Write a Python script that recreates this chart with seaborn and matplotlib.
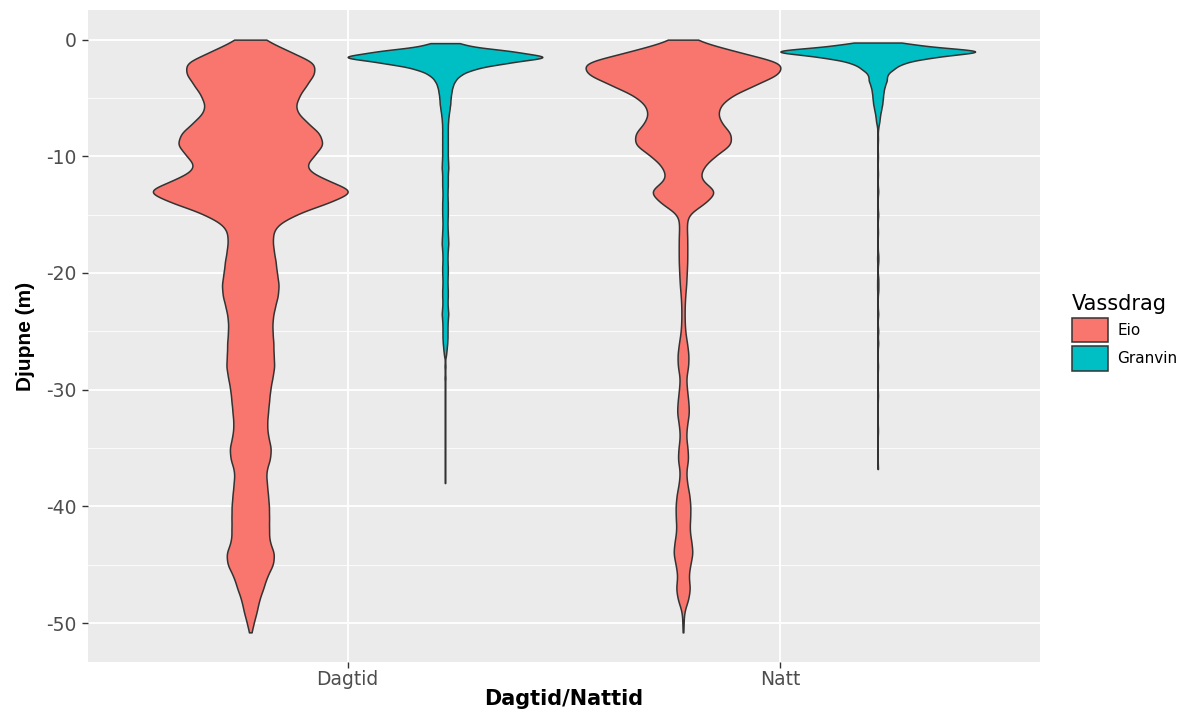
import numpy as np
import pandas as pd
import seaborn as sns
import matplotlib.pyplot as plt
from matplotlib.patches import Patch

# djupne (m, positiv nedover) og relativ breidde på fiolinen, lese av figuren
eio_djup = [0, 1, 2, 3, 4, 5, 6, 7, 8, 9, 10, 11, 12, 13, 14, 15, 16, 17, 18, 19, 20,
            21, 22, 23, 24, 25, 26, 27, 28, 29, 30, 31, 32, 33, 34, 35, 36, 37, 38, 39, 40,
            41, 42, 43, 44, 45, 46, 47, 48, 49, 50, 50.8]
eio_dag = [13, 35, 60, 58, 50, 43, 40, 50, 63, 67, 57, 48, 67, 98, 70, 40, 22, 20, 21, 23, 24,
           26, 25, 22, 20, 20, 21, 21, 22, 20, 18, 17, 16, 15, 16, 19, 18, 14, 15, 16, 17,
           17, 17, 17, 22, 21, 15, 12, 8, 6, 3, 0.5]
eio_natt = [9, 48, 96, 90, 64, 41, 32, 34, 45, 46, 29, 18, 15, 33, 21, 4, 3.5, 4, 4, 4, 3.5,
            3, 2, 1.5, 1.5, 2, 3.7, 5.3, 5, 2.7, 3.7, 5, 5.7, 3.7, 2.7, 4.3, 5, 2.7, 3.7, 6, 7,
            6.7, 6, 7.7, 9.3, 6.7, 5, 6.7, 5, 1, 0.5, 0.25]

granvin_dag_djup = [0.3, 0.5, 1.0, 1.5, 2.0, 2.5, 3.0, 3.5, 4.0, 4.5, 5.0, 5.5, 6.0, 6.5, 7.0, 7.5,
                    8.0, 8.5, 9.0, 9.5, 10.0, 10.5, 11.0, 11.5, 12.0, 12.5, 13.0, 13.5, 14.0, 14.5,
                    15.0, 15.5, 16.0, 16.5, 17.0, 17.5, 18.0, 18.5, 19.0, 19.5, 20.0, 20.5, 21.0,
                    21.5, 22.0, 22.5, 23.0, 23.5, 24.0, 24.5, 25.0, 25.5, 26.0, 26.5,
                    27, 28, 29, 30.5, 33, 35, 38]
granvin_dag = [5, 14, 61, 97, 54, 26, 14, 9, 6.7, 5.7, 5, 4.7, 4, 3.3, 2.7, 2.5,
               2.5, 2.5, 2.5, 2.5, 2.5, 2.8, 3, 2.5, 2.5, 2.5, 2.3, 2.3, 2.5, 2.5,
               2.5, 2.3, 2.3, 2.5, 2.8, 3, 2.5, 2.3, 2.3, 2.5, 2.5, 2.3, 2.3,
               2.5, 2.5, 2.3, 2.5, 3, 2.5, 2.3, 2.3, 2.3, 2, 1.5,
               1, 0.5, 0.5, 0.25, 0.25, 0.25, 0.25]

granvin_natt_djup = [0.25, 0.5, 1.0, 1.5, 2.0, 2.5, 3.0, 3.5, 4.0, 4.5, 5.0, 5.5, 6.0, 6.5, 7.0, 7.5,
                     8.5, 10, 11.5, 13, 15, 16.5, 18.5, 19, 20.5, 21, 21.5, 23.5, 25, 26,
                     28, 30.5, 33.5, 36.8]
granvin_natt = [5, 32, 100, 47, 22, 14, 8, 8, 6, 5, 4.5, 4, 3, 2, 1.5, 0.5,
                0.25, 0.25, 0.25, 0.5, 0.5, 0.25, 0.5, 0.5, 0.5, 0.5, 0.5, 0.5, 0.5, 0.5,
                0.25, 0.25, 0.25, 0.25]

tider = ["Dagtid", "Natt"]
vassdrag = ["Eio", "Granvin"]
fargar = {"Eio": "#F8766D", "Granvin": "#00BFC4"}


def utvid(djup, breidde, tid, vass):
    n = np.rint(np.array(breidde) * 4).astype(int)
    return pd.DataFrame({"Dagtid/Nattid": tid, "Vassdrag": vass,
                         "Djupne": np.repeat(-np.array(djup, dtype=float), n)})


df = pd.concat([
    utvid(eio_djup, eio_dag, "Dagtid", "Eio"),
    utvid(granvin_dag_djup, granvin_dag, "Dagtid", "Granvin"),
    utvid(eio_djup, eio_natt, "Natt", "Eio"),
    utvid(granvin_natt_djup, granvin_natt, "Natt", "Granvin"),
], ignore_index=True)

plt.rcParams["axes.unicode_minus"] = False

fig = plt.figure(figsize=(11.87, 7.15), dpi=100)
ax = fig.add_axes([88 / 1187, 1 - 662 / 715, (1040 - 88) / 1187, (662 - 10) / 715])
ax.set_facecolor("#EBEBEB")

# ulik bandbreidde for kvart vassdrag (data lese av med ulik oppløysing)
for vass, bw in [("Eio", 0.6), ("Granvin", 0.27)]:
    sub = df[df["Vassdrag"] == vass]
    sns.violinplot(data=sub, x="Dagtid/Nattid", y="Djupne", hue="Vassdrag",
                   order=tider, hue_order=vassdrag, palette=fargar, dodge=True,
                   width=0.9, cut=0, inner=None, density_norm="width",
                   bw_method=lambda k, b=bw: b / np.std(k.dataset),
                   gridsize=800, saturation=1, linecolor="#333333", linewidth=1.1,
                   legend=False, ax=ax)

ax.set_xlim(-0.6, 1.6)
ax.set_ylim(-53.34, 2.54)
ax.set_yticks([0, -10, -20, -30, -40, -50])
ax.set_yticks([-5, -15, -25, -35, -45], minor=True)
ax.set_xticks([0, 1])
ax.set_xticklabels(tider)
ax.set_axisbelow(True)
ax.grid(True, which="major", color="white", linewidth=1.3)
ax.grid(True, which="minor", axis="y", color="white", linewidth=0.6)
for s in ax.spines.values():
    s.set_visible(False)
ax.tick_params(axis="both", which="major", length=4, width=1, color="#333333",
               labelcolor="#4D4D4D", labelsize=13.5)
ax.tick_params(axis="y", which="minor", length=0)
ax.tick_params(axis="x", pad=2)
ax.tick_params(axis="y", pad=4)

ax.set_xlabel("Dagtid/Nattid", fontsize=15, fontweight="bold", color="black", labelpad=0)
ax.set_ylabel("Djupne (m)", fontsize=15, fontweight="bold", color="black", labelpad=8,
              family=["Liberation Sans", "DejaVu Sans"])

handles = [Patch(facecolor=fargar[v], edgecolor="#333333", linewidth=1.1, label=v) for v in vassdrag]
leg = fig.legend(handles=handles, title="Vassdrag", loc="upper left",
                 bbox_to_anchor=(1058 / 1187, 1 - 280 / 715), frameon=False,
                 fontsize=11, title_fontsize=15, handlelength=2.4, handleheight=2.1,
                 handletextpad=0.6, labelspacing=0.25, alignment="left")

fig.savefig("out.png", dpi=100)
